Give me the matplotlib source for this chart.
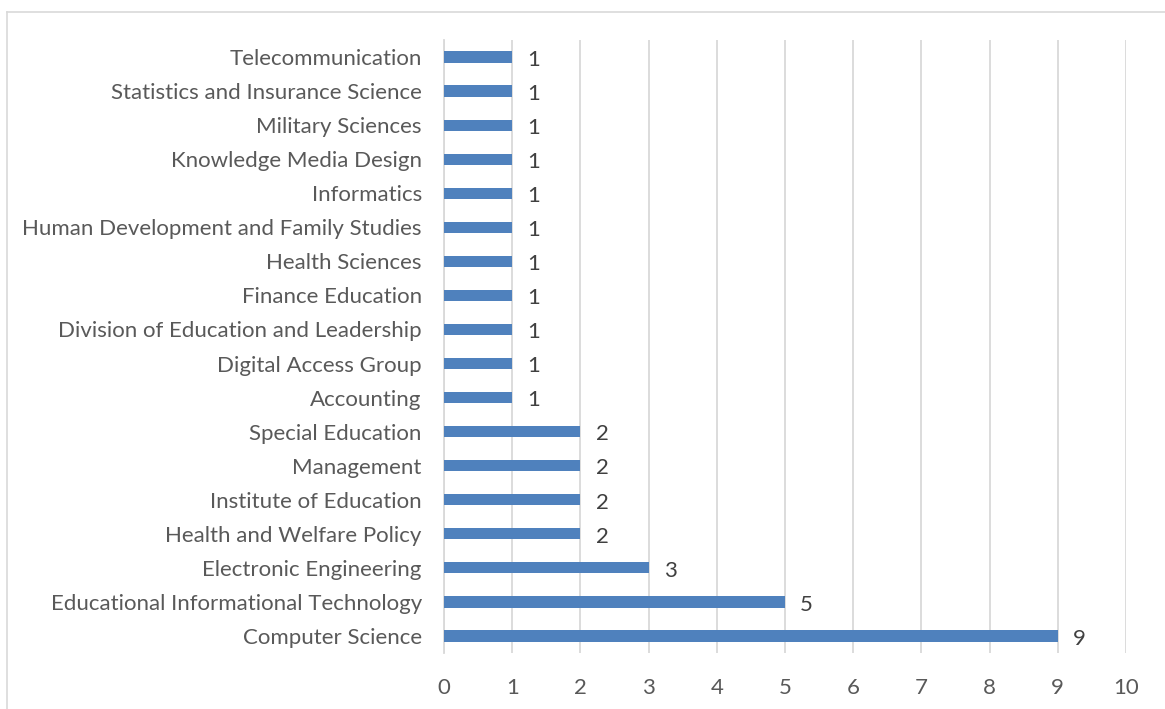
import matplotlib
matplotlib.use("Agg")
import matplotlib.pyplot as plt
from matplotlib.lines import Line2D

departments = [
    "Computer Science",
    "Educational Informational Technology",
    "Electronic Engineering",
    "Health and Welfare Policy",
    "Institute of Education",
    "Management",
    "Special Education",
    "Accounting",
    "Digital Access Group",
    "Division of Education and Leadership",
    "Finance Education",
    "Health Sciences",
    "Human Development and Family Studies",
    "Informatics",
    "Knowledge Media Design",
    "Military Sciences",
    "Statistics and Insurance Science",
    "Telecommunication",
]
counts = [9, 5, 3, 2, 2, 2, 2, 1, 1, 1, 1, 1, 1, 1, 1, 1, 1, 1]
x_ticks = list(range(0, 11))

plt.rcParams['font.family'] = ['Lato', 'DejaVu Sans']

W, H = 1165, 709
fig = plt.figure(figsize=(W / 100, H / 100), dpi=100)
ax = fig.add_axes([444 / W, 1 - 653 / H, (1126 - 444) / W, (653 - 40) / H])

bar_color = '#4f81bd'
grid_color = '#d9d9d9'
text_color = '#595959'
fs = 16

pos = list(range(len(departments)))
ax.barh(pos, counts, height=0.33, color=bar_color, zorder=3)
for y, v in zip(pos, counts):
    ax.annotate(str(v), xy=(v, y), xytext=(11, -2), textcoords='offset points',
                va='center', ha='left', fontsize=fs, color='#404040', zorder=4)

ax.set_xlim(0, 10)
ax.set_ylim(-0.5, len(departments) - 0.5)
ax.set_xticks(x_ticks)
ax.set_yticks(pos)
ax.set_yticklabels(departments)
ax.xaxis.grid(True, color=grid_color, linewidth=1.3, zorder=0)
ax.tick_params(axis='both', length=0, labelsize=fs, labelcolor=text_color)
ax.tick_params(axis='y', pad=16)
ax.tick_params(axis='x', pad=18)
for side in ['top', 'right', 'bottom']:
    ax.spines[side].set_visible(False)
ax.spines['left'].set_color(grid_color)
ax.spines['left'].set_linewidth(1.3)

# chart area outline (top and left edges visible)
fig.add_artist(Line2D([7 / W, 1], [1 - 11.5 / H, 1 - 11.5 / H],
                      color='#d9d9d9', linewidth=1.2, transform=fig.transFigure))
fig.add_artist(Line2D([7 / W, 7 / W], [1 - 11.5 / H, 0],
                      color='#d9d9d9', linewidth=1.2, transform=fig.transFigure))

fig.savefig('out.png', dpi=100)
